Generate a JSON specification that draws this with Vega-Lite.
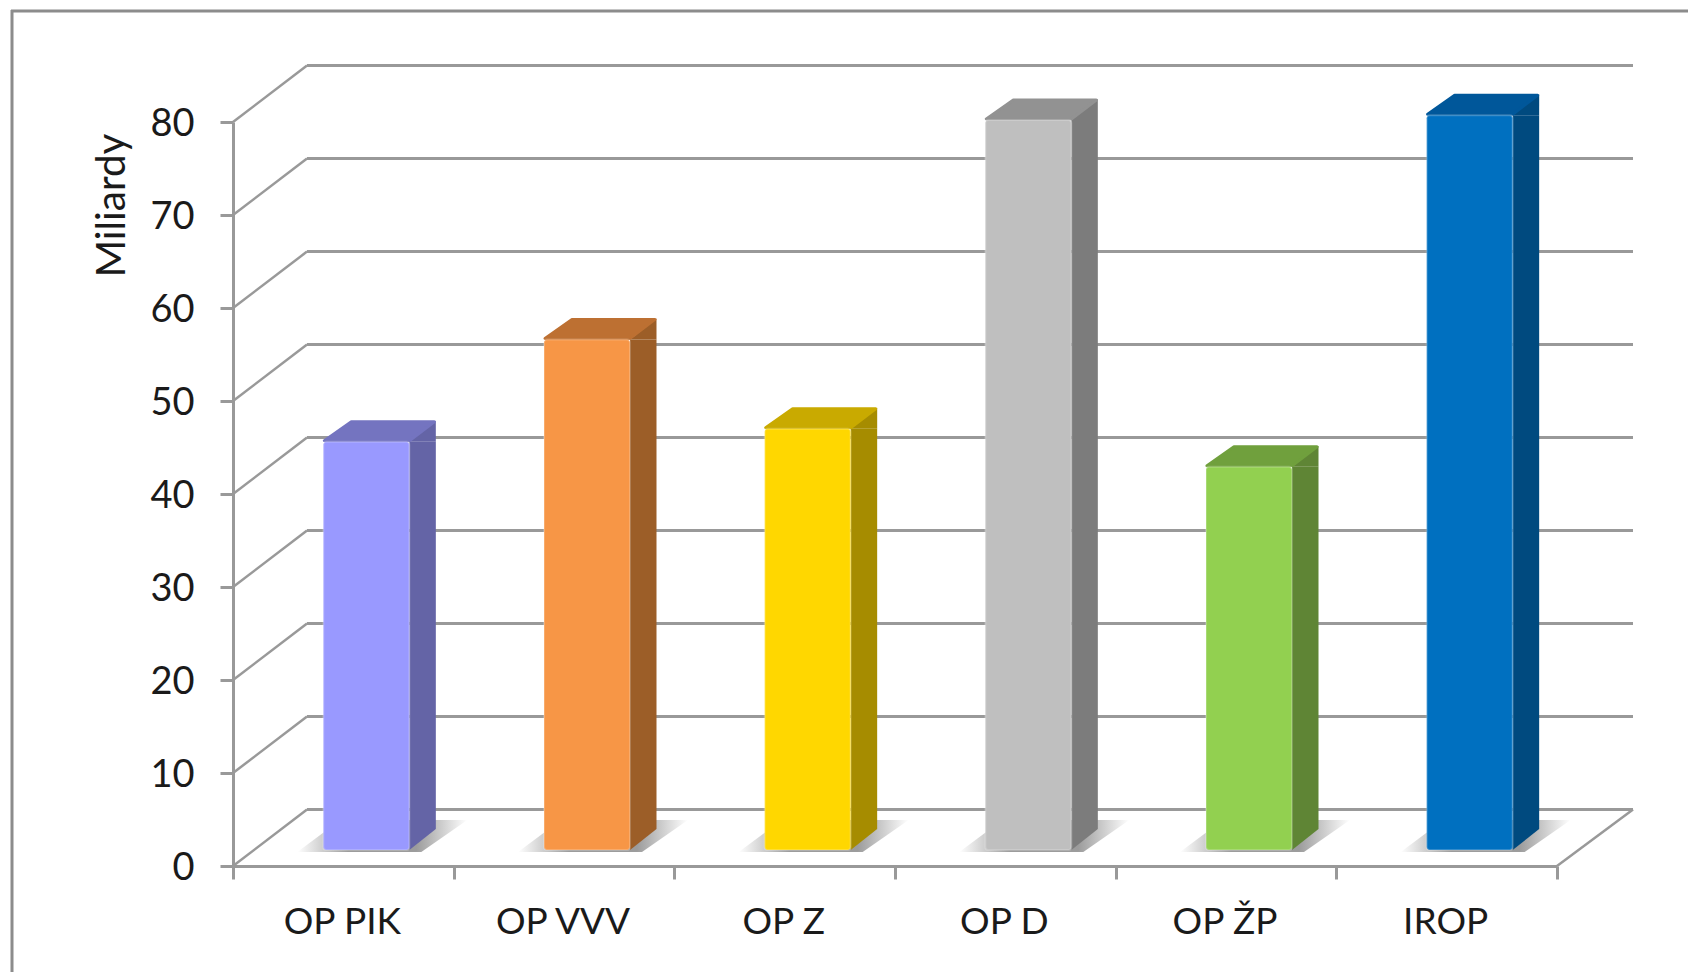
{
"$schema":"https://vega.github.io/schema/vega-lite/v6.json",
"width":1324,"height":744,
"autosize":{"type":"none"},
"padding":{"left":233,"top":122,"right":131,"bottom":106},
"background":"#ffffff",
"config":{"view":{"stroke":null}},
"datasets":{
"bars":[{"name":"OP PIK","value":43.9},{"name":"OP VVV","value":54.9},{"name":"OP Z","value":45.3},{"name":"OP D","value":78.5},{"name":"OP ŽP","value":41.2},{"name":"IROP","value":79.0}],
"ticks":[{"tick":0},{"tick":10},{"tick":20},{"tick":30},{"tick":40},{"tick":50},{"tick":60},{"tick":70},{"tick":80}],
"corner":[{"tick":0}],
"frame":[{"part":"border"}]
},
"resolve":{"scale":{"color":"independent","stroke":"independent"}},
"layer":[
{"data":{"name":"frame"},"mark":{"type":"rule","color":"#8c8c8c","strokeWidth":3},"encoding":{"x":{"value":-221},"y":{"value":-112},"y2":{"value":850}}},
{"data":{"name":"frame"},"mark":{"type":"rule","color":"#8c8c8c","strokeWidth":3},"encoding":{"x":{"value":-222},"x2":{"value":1455},"y":{"value":-111}}},
{"data":{"name":"ticks"},"mark":{"type":"rule","color":"#999999","strokeWidth":3,"yOffset":-56.4},
 "encoding":{"x":{"value":74},"x2":{"value":1400},"y":{"field":"tick","type":"quantitative","scale":{"domain":[0,80],"nice":false,"zero":false},
  "axis":{"values":[0,10,20,30,40,50,60,70,80],"title":"Miliardy","titleFont":"Lato","titleFontSize":40.5,"titleFontWeight":"normal","titleColor":"#1a1a1a","titleX":-121,"titleY":83,"titleAngle":-90,"titleAlign":"center","titleBaseline":"middle","labelFont":"Lato","labelFontSize":38,"labelColor":"#1a1a1a","labelPadding":26,"labelOffset":2,"grid":false,"domainColor":"#999999","domainWidth":3,"tickColor":"#999999","tickWidth":3,"tickSize":13}}}},
{"data":{"name":"ticks"},"mark":{"type":"point","shape":"M0,0L74,-56.4","size":4,"filled":false,"opacity":1,"stroke":"#999999","strokeWidth":2.5},
 "encoding":{"x":{"value":0},"y":{"field":"tick","type":"quantitative"}}},
{"data":{"name":"corner"},"mark":{"type":"point","shape":"M0,0L76,-56.4","size":4,"filled":false,"opacity":1,"stroke":"#999999","strokeWidth":2.5},
 "encoding":{"x":{"value":1324},"y":{"field":"tick","type":"quantitative"}}},
{"data":{"name":"bars"},"mark":{"type":"point","shape":"M-69,2L55,2L101,-30L-26,-30Z","size":4,"filled":true,"opacity":1,"xOffset":23,"yOffset":-16,
  "fill":{"gradient":"linear","x1":0,"y1":0,"x2":1,"y2":0,"stops":[{"offset":0,"color":"#ffffff"},{"offset":0.3,"color":"#9c9c9c"},{"offset":0.7,"color":"#9c9c9c"},{"offset":1,"color":"#ffffff"}]}},
 "encoding":{"x":{"field":"name","type":"nominal","sort":null,"scale":{"type":"band","paddingInner":0,"paddingOuter":0},
   "axis":{"title":null,"tickBand":"extent","labelAngle":0,"labelFont":"Lato","labelFontSize":37,"labelColor":"#1a1a1a","labelPadding":25,"labelOffset":-1.5,"labelBaseline":"top","domainColor":"#999999","domainWidth":3,"tickColor":"#999999","tickWidth":3,"tickSize":13}},
  "y":{"datum":0,"type":"quantitative"}}},
{"data":{"name":"bars"},"mark":{"type":"bar","width":26.5,"xOffset":79.25,"yOffset":-16,"y2Offset":-37},
 "encoding":{"x":{"field":"name","type":"nominal","sort":null},"y":{"field":"value","type":"quantitative"},"y2":{"datum":0},
  "color":{"field":"name","type":"nominal","legend":null,"scale":{"domain":["OP PIK","OP VVV","OP Z","OP D","OP ŽP","IROP"],"range":["#6464a6","#9c5e28","#a68c00","#7c7c7c","#5f8535","#004a7f"]}}}},
{"data":{"name":"bars"},"mark":{"type":"point","shape":"M43,0L69.5,-21L69.5,0Z","size":4,"filled":true,"opacity":1,"xOffset":23,"yOffset":-16,"strokeWidth":0.5},
 "encoding":{"x":{"field":"name","type":"nominal","sort":null},"y":{"field":"value","type":"quantitative"},
  "color":{"field":"name","type":"nominal","legend":null,"scale":{"domain":["OP PIK","OP VVV","OP Z","OP D","OP ŽP","IROP"],"range":["#6464a6","#9c5e28","#a68c00","#7c7c7c","#5f8535","#004a7f"]}}}},
{"data":{"name":"bars"},"mark":{"type":"point","shape":"M43,0L69.5,-21L43,-21Z","size":4,"filled":true,"opacity":1,"xOffset":23,"yOffset":-16,"strokeWidth":0.5},
 "encoding":{"x":{"field":"name","type":"nominal","sort":null},"y":{"datum":0,"type":"quantitative"},
  "color":{"field":"name","type":"nominal","legend":null,"scale":{"domain":["OP PIK","OP VVV","OP Z","OP D","OP ŽP","IROP"],"range":["#6464a6","#9c5e28","#a68c00","#7c7c7c","#5f8535","#004a7f"]}}}},
{"data":{"name":"bars"},"mark":{"type":"point","shape":"M-42,-1L43,-1L68,-20L-15,-20Z","size":4,"filled":true,"opacity":1,"xOffset":23,"yOffset":-16,"strokeWidth":3,"strokeJoin":"round"},
 "encoding":{"x":{"field":"name","type":"nominal","sort":null},"y":{"field":"value","type":"quantitative"},
  "color":{"field":"name","type":"nominal","legend":null,"scale":{"domain":["OP PIK","OP VVV","OP Z","OP D","OP ŽP","IROP"],"range":["#7474c0","#bd7032","#c9aa00","#929292","#70a03d","#00579a"]}},
  "stroke":{"field":"name","type":"nominal","legend":null,"scale":{"domain":["OP PIK","OP VVV","OP Z","OP D","OP ŽP","IROP"],"range":["#7474c0","#bd7032","#c9aa00","#929292","#70a03d","#00579a"]}}}},
{"data":{"name":"bars"},"mark":{"type":"bar","width":86,"xOffset":23,"yOffset":-16,"y2Offset":-16,"cornerRadius":3,"stroke":"#ffffff","strokeOpacity":0.2,"strokeWidth":2},
 "encoding":{"x":{"field":"name","type":"nominal","sort":null},"y":{"field":"value","type":"quantitative"},"y2":{"datum":0},
  "color":{"field":"name","type":"nominal","legend":null,"scale":{"domain":["OP PIK","OP VVV","OP Z","OP D","OP ŽP","IROP"],"range":["#9999ff","#f79646","#ffd700","#bfbfbf","#92d050","#0070c0"]}}}}
]
}
